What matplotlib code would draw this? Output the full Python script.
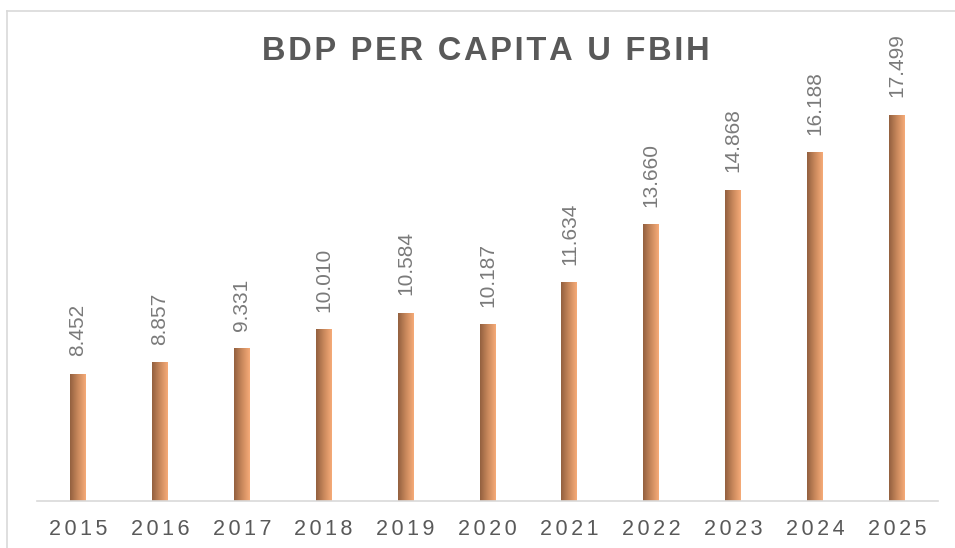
import numpy as np
import matplotlib.pyplot as plt
from matplotlib.colors import LinearSegmentedColormap
from matplotlib.lines import Line2D

plt.rcParams['font.family'] = ['Liberation Sans', 'DejaVu Sans']

# data
years = ['2015', '2016', '2017', '2018', '2019', '2020', '2021', '2022', '2023', '2024', '2025']
values = [8.452, 8.857, 9.331, 10.010, 10.584, 10.187, 11.634, 13.660, 14.868, 16.188, 17.499]
value_labels = ['8.452', '8.857', '9.331', '10.010', '10.584', '10.187',
                '11.634', '13.660', '14.868', '16.188', '17.499']
title = 'BDP PER CAPITA U FBIH'


def spaced(s, sep='\u200a'):
    # fake letter spacing
    return sep.join(s)


ymin = 4.0
ymax = ymin + 441 / 28.63
bar_w = 16 / 82

fig = plt.figure(figsize=(9.55, 5.48), dpi=100)
ax = fig.add_axes([37 / 955, 47 / 548, 901 / 955, 441 / 548])

x = np.arange(len(years))
bars = ax.bar(x, values, width=bar_w, color='none', edgecolor='none', zorder=2)

# horizontal gradient dark brown -> light orange on each bar
cmap = LinearSegmentedColormap.from_list('bar', ['#93603f', '#c9885c', '#f6ab78'])
grad = np.linspace(0, 1, 64).reshape(1, -1)
for xi, v, lab, b in zip(x, values, value_labels, bars):
    im = ax.imshow(grad, extent=[xi - bar_w / 2, xi + bar_w / 2, ymin, v],
                   aspect='auto', cmap=cmap, zorder=2, interpolation='bilinear')
    im.set_clip_path(b)
    ax.annotate(lab, (xi, v), xytext=(0, 12.5),
                textcoords='offset points', rotation=90, ha='center', va='bottom',
                fontsize=15, color='#7a7a7a')

ax.set_xlim(-0.5, len(years) - 0.5)
ax.set_ylim(ymin, ymax)
ax.set_xticks(x)
ax.set_xticklabels([spaced(y, '\u200a\u200a') for y in years], fontsize=15.5, color='#595959')
ax.tick_params(axis='x', length=0, pad=13)
ax.set_yticks([])
for s in ['top', 'right', 'left']:
    ax.spines[s].set_visible(False)
ax.spines['bottom'].set_color('#d9d9d9')
ax.spines['bottom'].set_linewidth(1.2)

fig.text(486 / 955, 1 - 51 / 548, spaced(title, '\u200a'), ha='center', va='center',
         fontsize=23.5, fontweight='bold', color='#595959')

# chart area border (cut off on right and bottom)
fig.add_artist(Line2D([7 / 955, 7 / 955], [0, 1 - 11 / 548], color='#d9d9d9', lw=1.2))
fig.add_artist(Line2D([7 / 955, 1], [1 - 11 / 548, 1 - 11 / 548], color='#d9d9d9', lw=1.2))

fig.savefig('out.png', dpi=100)
